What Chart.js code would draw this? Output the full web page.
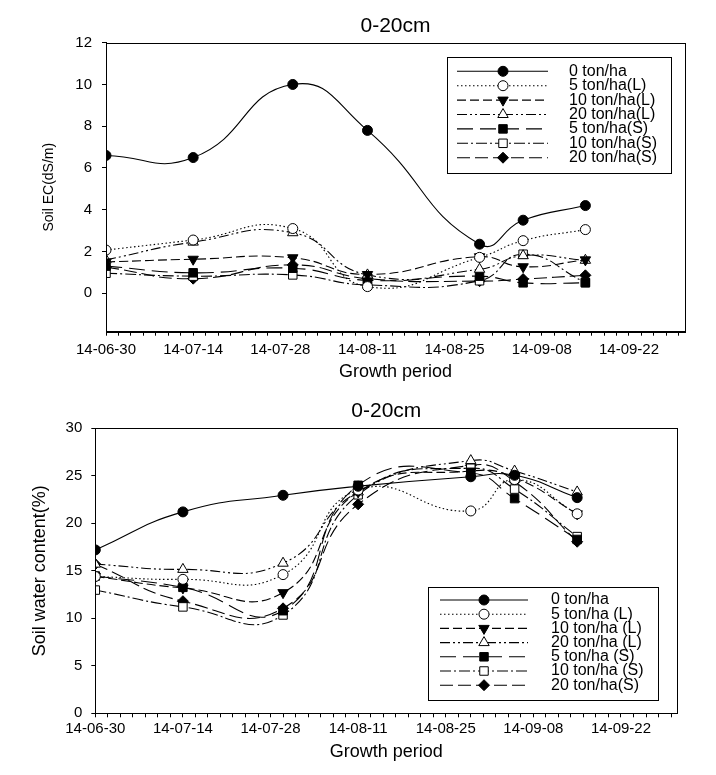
<!DOCTYPE html>
<html>
<head>
<meta charset="utf-8">
<title>Soil EC and soil water content, 0-20cm</title>
<script src="https://cdn.jsdelivr.net/npm/chart.js@4.4.1/dist/chart.umd.min.js"></script>
<style>
  body { margin: 0; background: #fff; }
  canvas { display: block; }
</style>
</head>
<body>
<canvas id="ecChart" width="716" height="392"></canvas>
<canvas id="swcChart" width="716" height="383"></canvas>
<script>
// sampling dates (yy-mm-dd) and axis tick labels
const sampleDates = ['14-06-30', '14-07-14', '14-07-30', '14-08-11', '14-08-29', '14-09-05', '14-09-15'];
const tickDates = ['14-06-30', '14-07-14', '14-07-28', '14-08-11', '14-08-25', '14-09-08', '14-09-22'];

const ecNames = ['0 ton/ha', '5 ton/ha(L)', '10 ton/ha(L)', '20 ton/ha(L)', '5 ton/ha(S)', '10 ton/ha(S)', '20 ton/ha(S)'];
const swcNames = ['0 ton/ha', '5 ton/ha (L)', '10 ton/ha (L)', '20 ton/ha (L)', '5 ton/ha (S)', '10 ton/ha (S)', '20 ton/ha(S)'];

// Soil EC (dS/m)
const ec0   = [6.6, 6.5, 10.0, 7.8, 2.35, 3.5, 4.2];
const ec5L  = [2.07, 2.55, 3.1, 0.32, 1.72, 2.52, 3.05];
const ec10L = [1.5, 1.63, 1.7, 0.9, 1.75, 1.27, 1.6];
const ec20L = [1.6, 2.45, 2.9, 0.88, 1.15, 1.8, 1.58];
const ec5S  = [1.3, 0.98, 1.2, 0.62, 0.82, 0.5, 0.5];
const ec10S = [0.96, 0.82, 0.88, 0.4, 0.6, 1.87, 0.52];
const ec20S = [1.25, 0.7, 1.36, 0.7, 0.58, 0.68, 0.86];

// Soil water content (%)
const sw0   = [17.2, 21.2, 22.95, 23.9, 24.9, 25.05, 22.7];
const sw5L  = [14.4, 14.1, 14.6, 23.5, 21.3, 24.6, 21.0];
const sw10L = [14.4, 13.2, 12.7, 23.3, 25.5, 24.8, 21.0];
const sw20L = [15.7, 15.15, 15.8, 23.3, 26.6, 25.5, 23.3];
const sw5S  = [14.45, 13.26, 10.8, 24.0, 25.3, 22.6, 18.3];
const sw10S = [12.97, 11.2, 10.35, 23.0, 25.8, 23.6, 18.6];
const sw20S = [15.7, 11.8, 11.05, 22.0, 26.1, 24.4, 18.06];

const ecTicks = [0, 2, 4, 6, 8, 10, 12];
const swcTicks = [0, 5, 10, 15, 20, 25, 30];

const FONT = "'Liberation Sans', Arial, sans-serif";
Chart.defaults.font.family = FONT;
Chart.defaults.color = '#000';

// days since 14-06-30
function dayOf(label) {
    const p = label.split('-').map(Number);
    return Math.round((Date.UTC(2000 + p[0], p[1] - 1, p[2]) - Date.UTC(2014, 5, 30)) / 86400000);
}
const sampleDays = sampleDates.map(dayOf);
const tickDays = tickDates.map(dayOf);
const lastDay = dayOf('14-10-01');

// line and marker look of each treatment
const looks = [
    { dash: [], style: 'circle', fill: '#000', rot: 0, r: 5 },
    { dash: [1.5, 2.5], style: 'circle', fill: '#fff', rot: 0, r: 5 },
    { dash: [9, 4], style: 'triangle', fill: '#000', rot: 180, r: 6 },
    { dash: [10, 3, 2, 3, 2, 3], style: 'triangle', fill: '#fff', rot: 0, r: 6 },
    { dash: [16, 7], style: 'rect', fill: '#000', rot: 0, r: 6 },
    { dash: [11, 3, 2, 3], style: 'rect', fill: '#fff', rot: 0, r: 6 },
    { dash: [13, 5], style: 'rectRot', fill: '#000', rot: 0, r: 5.5 }
];

function makeDatasets(names, series) {
    return series.map((vals, i) => ({
        label: names[i],
        data: vals.map((v, k) => ({ x: sampleDays[k], y: v })),
        borderColor: '#000',
        borderWidth: 1.1,
        borderDash: looks[i].dash,
        tension: 0.5,
        fill: false,
        pointStyle: looks[i].style,
        pointRotation: looks[i].rot,
        pointRadius: looks[i].r,
        pointBackgroundColor: looks[i].fill,
        pointBorderColor: '#000',
        pointBorderWidth: 1
    }));
}

// box round the plot area
const framePlugin = {
    id: 'frame',
    afterDatasetsDraw(chart) {
        const a = chart.chartArea;
        const ctx = chart.ctx;
        ctx.save();
        ctx.strokeStyle = '#000';
        ctx.lineWidth = 1;
        ctx.setLineDash([]);
        ctx.strokeRect(Math.round(a.left) + 0.5, Math.round(a.top) + 0.5, Math.round(a.right - a.left), Math.round(a.bottom - a.top));
        ctx.restore();
    }
};

// legend drawn inside the plot, with line sample and marker
const boxLegendPlugin = {
    id: 'boxLegend',
    afterDraw(chart, args, o) {
        if (!o || !o.box) return;
        const ctx = chart.ctx;
        ctx.save();
        ctx.setLineDash([]);
        ctx.fillStyle = '#fff';
        ctx.fillRect(o.box[0], o.box[1], o.box[2], o.box[3]);
        ctx.strokeStyle = '#000';
        ctx.lineWidth = 1;
        ctx.strokeRect(o.box[0] + 0.5, o.box[1] + 0.5, o.box[2], o.box[3]);
        chart.data.datasets.forEach((ds, i) => {
            const y = o.rowTop + i * o.rowStep;
            ctx.setLineDash(ds.borderDash);
            ctx.lineWidth = ds.borderWidth;
            ctx.beginPath();
            ctx.moveTo(o.lineX[0], y);
            ctx.lineTo(o.lineX[1], y);
            ctx.stroke();
            ctx.setLineDash([]);
            ctx.lineWidth = 1;
            ctx.fillStyle = ds.pointBackgroundColor;
            Chart.helpers.drawPoint(ctx, { pointStyle: ds.pointStyle, rotation: ds.pointRotation, radius: ds.pointRadius, borderWidth: 1 }, o.markX, y);
            ctx.fillStyle = '#000';
            ctx.font = o.font;
            ctx.textBaseline = 'middle';
            ctx.textAlign = 'left';
            ctx.fillText(ds.label, o.textX, y);
        });
        ctx.restore();
    }
};

function dateTickLabel(v) {
    const i = tickDays.indexOf(v);
    return i >= 0 ? tickDates[i] : '';
}

function everyTwoDays(scale) {
    const t = [];
    for (let d = 0; d < lastDay; d += 2) t.push({ value: d });
    scale.ticks = t;
}

function buildOptions(cfg) {
    return {
        responsive: false,
        animation: false,
        layout: { padding: { left: 0, right: cfg.padRight, top: 0, bottom: 0 } },
        plugins: {
            legend: { display: false },
            tooltip: { enabled: false },
            title: {
                display: true,
                fullSize: false,
                text: '0-20cm',
                color: '#000',
                font: { size: 21, weight: 'normal' },
                padding: cfg.titlePad
            },
            boxLegend: cfg.legend
        },
        scales: {
            x: {
                type: 'linear',
                min: 0,
                max: lastDay,
                bounds: 'data',
                afterBuildTicks: everyTwoDays,
                afterFit: s => { s.height = cfg.xHeight; },
                grid: { drawOnChartArea: false, tickLength: 4, color: '#000' },
                border: { color: '#000' },
                ticks: { autoSkip: false, maxRotation: 0, minRotation: 0, padding: cfg.xTickPad, color: '#000', font: { size: 15 }, callback: dateTickLabel },
                title: { display: true, text: 'Growth period', color: '#000', font: { size: 18 }, padding: { top: 0, bottom: cfg.xTitlePad } }
            },
            y: {
                type: 'linear',
                min: cfg.yMin,
                max: cfg.yMax,
                bounds: 'data',
                afterBuildTicks: s => { s.ticks = cfg.yTicks.map(v => ({ value: v })); },
                afterFit: s => { s.width = cfg.yWidth; },
                grid: { drawOnChartArea: false, tickLength: 4, color: '#000' },
                border: { color: '#000' },
                ticks: { padding: cfg.yTickPad, color: '#000', font: { size: 15 } },
                title: { display: true, text: cfg.yTitle, color: '#000', font: { size: cfg.yTitleSize }, padding: { top: cfg.yTitlePad, bottom: 0 } }
            }
        }
    };
}

new Chart(document.getElementById('ecChart'), {
    type: 'line',
    data: { datasets: makeDatasets(ecNames, [ec0, ec5L, ec10L, ec20L, ec5S, ec10S, ec20S]) },
    options: buildOptions({
        padRight: 31,
        titlePad: { top: 14, bottom: 3.5 },
        xHeight: 60.3, xTickPad: 5, xTitlePad: 9,
        yMin: -1.84, yMax: 12, yTicks: ecTicks, yWidth: 106, yTickPad: 10,
        yTitle: 'Soil EC(dS/m)', yTitleSize: 14, yTitlePad: 40.6,
        legend: { box: [447, 57, 224, 116], rowTop: 71.3, rowStep: 14.4, lineX: [457, 548], markX: 503, textX: 569, font: '16px ' + FONT }
    }),
    plugins: [framePlugin, boxLegendPlugin]
});

new Chart(document.getElementById('swcChart'), {
    type: 'line',
    data: { datasets: makeDatasets(swcNames, [sw0, sw5L, sw10L, sw20L, sw5S, sw10S, sw20S]) },
    options: buildOptions({
        padRight: 38.7,
        titlePad: { top: 6.4, bottom: 4.7 },
        xHeight: 61.7, xTickPad: 3, xTitlePad: 12.2,
        yMin: 0, yMax: 30, yTicks: swcTicks, yWidth: 95.3, yTickPad: 9,
        yTitle: 'Soil water content(%)', yTitleSize: 18, yTitlePad: 29.2,
        legend: { box: [428, 195, 230, 113], rowTop: 208, rowStep: 14.2, lineX: [440, 528], markX: 484, textX: 551, font: '16px ' + FONT }
    }),
    plugins: [framePlugin, boxLegendPlugin]
});
</script>
</body>
</html>
